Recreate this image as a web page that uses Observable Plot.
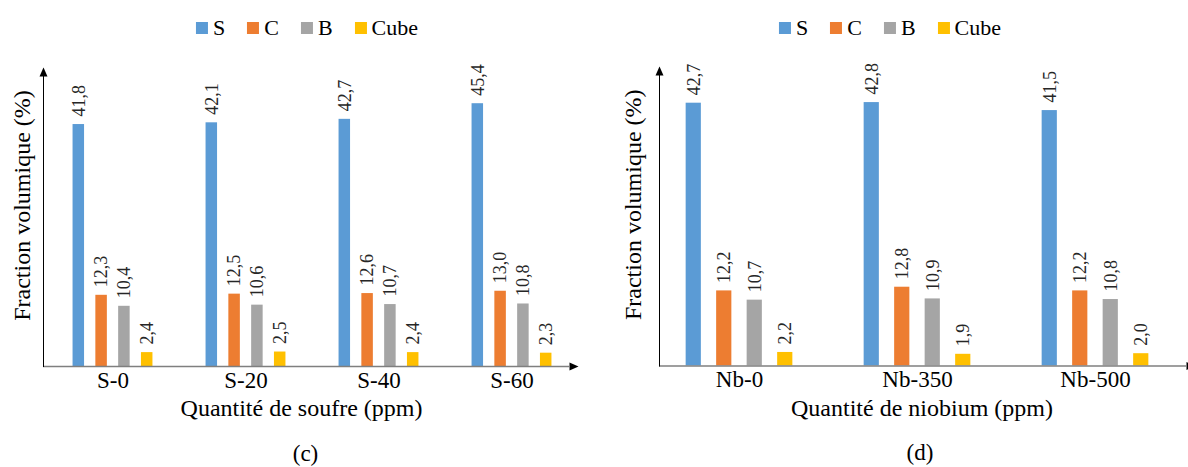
<!DOCTYPE html>
<html>
<head>
<meta charset="utf-8">
<script src="https://cdn.jsdelivr.net/npm/d3@7"></script>
<script src="https://cdn.jsdelivr.net/npm/@observablehq/plot@0.6"></script>
<style>
html, body { margin: 0; padding: 0; background: #fff; overflow: hidden; }
#root { position: relative; width: 1188px; height: 467px; font-family: "Liberation Serif", "Times New Roman", serif; color: #000; }
.panel { position: absolute; top: 0; height: 467px; overflow: hidden; }
.panel svg { position: absolute; left: 0; top: 0; }
.legend { position: absolute; top: 15px; display: flex; align-items: center; font-size: 22px; white-space: nowrap; transform: translateX(-50%); }
.legend .it { display: flex; align-items: center; margin: 0 11px; }
.legend .sw { width: 12px; height: 12px; margin-right: 5px; }
</style>
</head>
<body>
<div id="root"></div>
<script>
// ---- data ----
const series = ["S", "C", "B", "Cube"];
const seriesColors = ["#5B9BD5", "#ED7D31", "#A5A5A5", "#FFC000"];

const catsC = ["S-0", "S-20", "S-40", "S-60"];
const valsC_S = [41.8, 42.1, 42.7, 45.4];
const valsC_C = [12.3, 12.5, 12.6, 13.0];
const valsC_B = [10.4, 10.6, 10.7, 10.8];
const valsC_Cube = [2.4, 2.5, 2.4, 2.3];

const catsD = ["Nb-0", "Nb-350", "Nb-500"];
const valsD_S = [42.7, 42.8, 41.5];
const valsD_C = [12.2, 12.8, 12.2];
const valsD_B = [10.7, 10.9, 10.8];
const valsD_Cube = [2.2, 1.9, 2.0];

const yTitle = "Fraction volumique (%)";
const xTitleC = "Quantité de soufre (ppm)";
const xTitleD = "Quantité de niobium (ppm)";
const captionC = "(c)";
const captionD = "(d)";

// ---- helpers ----
const fmt = v => v.toFixed(1).replace(".", ",");
const arrowHead = {
  draw(ctx) { ctx.moveTo(0, -9); ctx.lineTo(4, 0); ctx.lineTo(-4, 0); ctx.closePath(); }
};

function panel(cfg) {
  const bw = (cfg.xRange[1] - cfg.xRange[0]) / cfg.cats.length;
  const marks = [];
  cfg.values.forEach((vals, i) => {
    const rows = cfg.cats.map((c, j) => ({cat: c, value: vals[j]}));
    const off = (i - 1.5) * cfg.step;
    marks.push(Plot.barY(rows, {
      x: "cat", y: "value", fill: seriesColors[i],
      insetLeft: (bw - cfg.barW) / 2, insetRight: (bw - cfg.barW) / 2, dx: off
    }));
    marks.push(Plot.text(rows, {
      x: "cat", y: "value", text: d => fmt(d.value), rotate: -90, textAnchor: "start",
      dx: off, dy: -8, fontSize: 18, fill: "#262626"
    }));
  });
  marks.push(Plot.ruleY([0], {stroke: "#7f7f7f", strokeWidth: 1.5}));
  marks.push(Plot.frame({anchor: "left", stroke: "#000", strokeWidth: 1}));
  marks.push(Plot.dot([0], {frameAnchor: "top-left", symbol: arrowHead, r: 4, fill: "#000", stroke: "none"}));
  marks.push(Plot.dot([0], {frameAnchor: "bottom-right", symbol: arrowHead, r: 4, fill: "#000", stroke: "none", rotate: 90}));
  marks.push(Plot.axisX({tickSize: 0, tickPadding: 5, fontSize: 23, label: null, fill: "#000"}));
  marks.push(Plot.text([yTitle], {frameAnchor: "left", textAnchor: "middle", lineAnchor: "middle", rotate: -90, dx: cfg.yTitleDx, dy: -16, fontSize: 24, fill: "#000"}));
  marks.push(Plot.text([cfg.xTitle], {frameAnchor: "bottom", textAnchor: "middle", lineAnchor: "middle", dx: cfg.xTitleDx, dy: 42, fontSize: 24, fill: "#000"}));
  marks.push(Plot.text([cfg.caption], {frameAnchor: "bottom", textAnchor: "middle", lineAnchor: "middle", dx: cfg.captionDx, dy: 87, fontSize: 23, fill: "#000"}));

  return Plot.plot({
    width: cfg.width, height: 467,
    marginLeft: cfg.marginLeft, marginRight: cfg.marginRight,
    marginTop: cfg.marginTop, marginBottom: cfg.marginBottom,
    style: {fontFamily: "'Liberation Serif', 'Times New Roman', serif", fontSize: "23px", color: "#000", background: "transparent", overflow: "visible"},
    x: {type: "band", domain: cfg.cats, range: cfg.xRange, padding: 0, axis: null},
    y: {domain: [0, cfg.yMax], axis: null},
    marks
  });
}

function legend(centerX) {
  const d = document.createElement("div");
  d.className = "legend";
  d.style.left = centerX + "px";
  series.forEach((s, i) => {
    const it = document.createElement("div"); it.className = "it";
    const sw = document.createElement("div"); sw.className = "sw"; sw.style.background = seriesColors[i];
    const t = document.createElement("span"); t.textContent = s;
    it.appendChild(sw); it.appendChild(t); d.appendChild(it);
  });
  return d;
}

const root = document.getElementById("root");

const pc = document.createElement("div"); pc.className = "panel"; pc.style.left = "0px"; pc.style.width = "600px";
pc.appendChild(panel({
  width: 600, cats: catsC, values: [valsC_S, valsC_C, valsC_B, valsC_Cube],
  marginLeft: 43, marginRight: 31, marginTop: 76, marginBottom: 101,
  xRange: [44.6, 578.6], yMax: 50.1, barW: 12, step: 22.8,
  xTitle: xTitleC, caption: captionC, yTitleDx: -21, xTitleDx: -5, captionDx: -1
}));
pc.appendChild(legend(307));
root.appendChild(pc);

const pd = document.createElement("div"); pd.className = "panel"; pd.style.left = "600px"; pd.style.width = "588px";
pd.appendChild(panel({
  width: 588, cats: catsD, values: [valsD_S, valsD_C, valsD_B, valsD_Cube],
  marginLeft: 59, marginRight: 2, marginTop: 75, marginBottom: 101.5,
  xRange: [48.4, 584.8], yMax: 47.2, barW: 16, step: 30.5,
  xTitle: xTitleD, caption: captionD, yTitleDx: -26, xTitleDx: -1, captionDx: -3
}));
pd.appendChild(legend(290));
root.appendChild(pd);
</script>
</body>
</html>
